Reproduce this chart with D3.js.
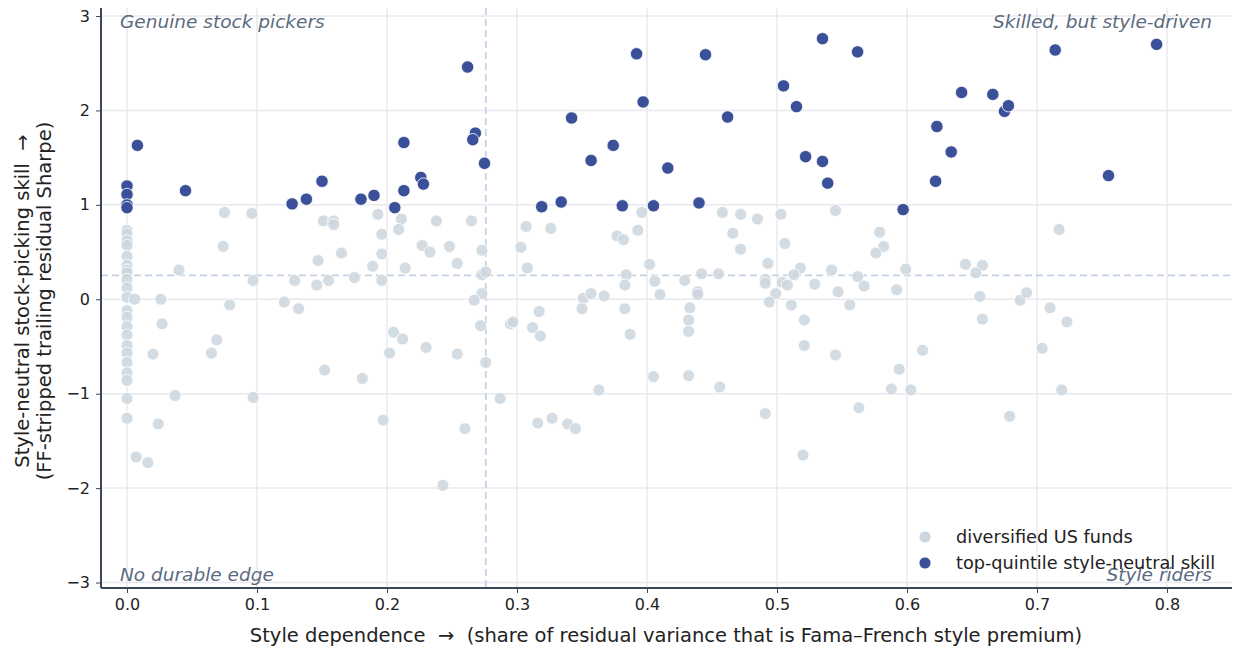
<!DOCTYPE html>
<html><head><meta charset="utf-8">
<script src="https://cdn.jsdelivr.net/npm/d3@7"></script>
<style>body{margin:0;background:#fff;font-family:"DejaVu Sans",sans-serif;} text{white-space:pre;}</style>
</head><body><svg id="c" width="1235" height="648"></svg>
<script>
// ---- data ----
const xTicks = [0.0,0.1,0.2,0.3,0.4,0.5,0.6,0.7,0.8];
const yTicks = [-3,-2,-1,0,1,2,3];
const styleThreshold = 0.276;
const skillThreshold = 0.254;
const seriesNames = ["diversified US funds","top-quintile style-neutral skill"];
// diversified US funds (style dependence, style-neutral skill)
const fundsX = [0,0,0,0,0,0,0,0,0,0,0,0,0,0,0,0,0,0,0,0,0,0,
 0.006,0.026,0.04,0.075,0.096,0.074,0.097,0.079,0.027,0.069,0.065,0.02,0.037,0.097,
 0.151,0.159,0.159,0.193,0.211,0.209,0.196,0.196,0.165,0.147,0.189,0.214,0.129,0.146,0.155,0.175,0.196,0.121,0.132,0.205,0.212,0.202,0.152,0.181,
 0.024,0.007,0.016,0.197,
 0.238,0.265,0.227,0.233,0.248,0.254,0.273,0.273,0.276,0.273,0.267,0.23,0.254,0.272,0.276,0.287,
 0.307,0.326,0.303,0.308,0.351,0.357,0.367,0.35,0.317,0.295,0.297,0.312,0.318,0.363,
 0.377,0.382,0.396,0.393,0.402,0.384,0.383,0.406,0.41,0.383,0.387,0.405,0.432,0.429,0.442,0.455,0.439,0.439,0.433,0.432,0.432,0.456,
 0.458,0.472,0.485,0.503,0.466,0.472,0.506,0.493,0.518,0.513,0.491,0.491,0.504,0.508,0.529,0.499,0.494,0.511,0.521,0.521,
 0.26,0.243,0.316,0.327,0.339,0.345,0.491,0.52,
 0.545,0.579,0.582,0.576,0.717,0.542,0.562,0.599,0.547,0.567,0.592,0.556,0.645,0.658,0.653,0.656,0.658,0.687,0.692,0.71,0.723,
 0.545,0.612,0.704,0.594,0.588,0.603,0.719,0.563,0.679];
const fundsY = [0.73,0.69,0.62,0.57,0.455,0.36,0.31,0.28,0.21,0.12,0.02,-0.12,-0.19,-0.29,-0.38,-0.49,-0.57,-0.67,-0.78,-0.86,-1.05,-1.26,
 0.0,0.0,0.31,0.92,0.91,0.56,0.2,-0.06,-0.26,-0.43,-0.57,-0.58,-1.02,-1.04,
 0.83,0.83,0.79,0.9,0.85,0.74,0.69,0.48,0.49,0.41,0.35,0.33,0.2,0.15,0.2,0.23,0.2,-0.03,-0.1,-0.35,-0.42,-0.57,-0.75,-0.84,
 -1.32,-1.67,-1.73,-1.28,
 0.83,0.83,0.57,0.5,0.56,0.38,0.52,0.26,0.29,0.06,-0.01,-0.51,-0.58,-0.28,-0.67,-1.05,
 0.77,0.75,0.55,0.33,0.01,0.06,0.035,-0.1,-0.13,-0.26,-0.24,-0.3,-0.39,-0.96,
 0.67,0.63,0.92,0.73,0.37,0.26,0.15,0.19,0.05,-0.1,-0.37,-0.82,-0.81,0.2,0.27,0.27,0.08,0.05,-0.09,-0.22,-0.34,-0.93,
 0.92,0.9,0.85,0.9,0.7,0.53,0.59,0.38,0.33,0.26,0.21,0.17,0.18,0.15,0.16,0.06,-0.03,-0.06,-0.22,-0.49,
 -1.37,-1.97,-1.31,-1.26,-1.32,-1.37,-1.21,-1.65,
 0.94,0.71,0.56,0.49,0.74,0.31,0.24,0.32,0.08,0.14,0.1,-0.06,0.37,0.36,0.28,0.03,-0.21,-0.01,0.07,-0.09,-0.24,
 -0.59,-0.54,-0.52,-0.74,-0.95,-0.96,-0.96,-1.15,-1.24];
// top-quintile style-neutral skill
const topX = [0,0,0,0,0.008,0.045,0.127,0.138,0.15,0.18,0.19,0.206,0.213,0.213,0.226,0.228,0.262,0.268,0.266,0.275,
 0.319,0.334,0.342,0.357,0.374,0.381,0.392,0.397,0.405,0.416,0.44,0.445,0.462,0.505,0.515,0.522,0.535,0.535,0.539,0.562,
 0.597,0.622,0.623,0.634,0.642,0.666,0.675,0.678,0.714,0.755,0.792];
const topY = [1.2,1.11,1.0,0.97,1.63,1.15,1.01,1.06,1.25,1.06,1.1,0.97,1.66,1.15,1.29,1.22,2.46,1.76,1.69,1.44,
 0.98,1.03,1.92,1.47,1.63,0.99,2.6,2.09,0.99,1.39,1.02,2.59,1.93,2.26,2.04,1.51,2.76,1.46,1.23,2.62,
 0.95,1.25,1.83,1.56,2.19,2.17,1.99,2.05,2.64,1.31,2.7];
const quadrantLabels = ["Genuine stock pickers","Skilled, but style-driven","No durable edge","Style riders"];

// ---- chart ----
const W=1235,H=648, m={l:101,r:3,t:8,b:60};
const svg=d3.select("#c");
const x=d3.scaleLinear().domain([-0.02,0.85]).range([m.l,W-m.r]);
const y=d3.scaleLinear().domain([-3.058,3.085]).range([H-m.b,m.t]);
const fmtY=d=>d<0?"\u2212"+Math.abs(d):String(d);

// grid
const g=svg.append("g");
g.selectAll(".gx").data(xTicks).join("line").attr("x1",d=>x(d)).attr("x2",d=>x(d)).attr("y1",m.t).attr("y2",H-m.b)
 .attr("stroke","#e8e8ef").attr("stroke-width",1.5);
g.selectAll(".gy").data(yTicks).join("line").attr("y1",d=>y(d)).attr("y2",d=>y(d)).attr("x1",m.l).attr("x2",W-m.r)
 .attr("stroke","#e8e8ef").attr("stroke-width",1.5);

// threshold lines
svg.append("line").attr("x1",x(styleThreshold)).attr("x2",x(styleThreshold)).attr("y1",m.t).attr("y2",H-m.b)
 .attr("stroke","#c3d1e2").attr("stroke-width",1.7).attr("stroke-dasharray","7,4");
svg.append("line").attr("y1",y(skillThreshold)).attr("y2",y(skillThreshold)).attr("x1",m.l).attr("x2",W-m.r)
 .attr("stroke","#c3d1e2").attr("stroke-width",1.7).attr("stroke-dasharray","7,4");

// points
const funds=fundsX.map((v,i)=>({x:v,y:fundsY[i]}));
const tops=topX.map((v,i)=>({x:v,y:topY[i]}));
svg.append("g").selectAll("circle").data(funds).join("circle")
 .attr("cx",d=>x(d.x)).attr("cy",d=>y(d.y)).attr("r",6)
 .attr("fill","#cdd6de").attr("fill-opacity",0.85).attr("stroke","#fff").attr("stroke-width",0.8);
svg.append("g").selectAll("circle").data(tops).join("circle")
 .attr("cx",d=>x(d.x)).attr("cy",d=>y(d.y)).attr("r",6.2)
 .attr("fill","#3a5199").attr("stroke","#fff").attr("stroke-width",0.8);

// axes
const ax=svg.append("g").attr("transform",`translate(0,${H-m.b})`)
 .call(d3.axisBottom(x).tickValues(xTicks).tickFormat(d3.format(".1f")).tickSize(5).tickPadding(6));
const ay=svg.append("g").attr("transform",`translate(${m.l},0)`)
 .call(d3.axisLeft(y).tickValues(yTicks).tickFormat(fmtY).tickSize(5).tickPadding(6));
[ax,ay].forEach(a=>{
 a.select(".domain").attr("stroke","#3b4659").attr("stroke-width",2);
 a.selectAll(".tick line").attr("stroke","#3b4659").attr("stroke-width",1);
 a.selectAll(".tick text").attr("fill","#222").style("font-size","16px").style("font-family","DejaVu Sans");
});
ay.select(".domain").attr("d",`M0,${m.t}V${H-m.b}`);
ax.select(".domain").attr("d",`M${m.l},0H${W-m.r}`);

// axis labels
svg.append("text").attr("x",666).attr("y",642).attr("text-anchor","middle").attr("fill","#222")
 .style("font-size","19.5px").text("Style dependence  \u2192  (share of residual variance that is Fama\u2013French style premium)");
const yl=svg.append("text").attr("transform",`translate(29,301) rotate(-90)`).attr("text-anchor","middle")
 .attr("fill","#222").style("font-size","19.5px");
yl.append("tspan").attr("x",0).attr("dy",0).text("Style-neutral stock-picking skill  \u2192");
yl.append("tspan").attr("x",0).attr("dy","1.15em").text("(FF-stripped trailing residual Sharpe)");

// quadrant labels
const ql=[{t:quadrantLabels[0],x:120,y:28,a:"start"},{t:quadrantLabels[1],x:1212,y:28,a:"end"},
 {t:quadrantLabels[2],x:120,y:581,a:"start"},{t:quadrantLabels[3],x:1212,y:581,a:"end"}];
svg.append("g").selectAll("text").data(ql).join("text").attr("x",d=>d.x).attr("y",d=>d.y).attr("text-anchor",d=>d.a)
 .attr("fill","#5a6b80").style("font-size","18.5px").style("font-style","italic").text(d=>d.t);

// legend
const lg=svg.append("g");
const lc=["#cdd6de","#3a5199"];
seriesNames.forEach((s,i)=>{
 lg.append("circle").attr("cx",925).attr("cy",537+i*26).attr("r",6).attr("fill",lc[i]).attr("stroke","#fff").attr("stroke-width",0.8);
 lg.append("text").attr("x",956).attr("y",543+i*26).attr("fill","#222").style("font-size","17.7px").text(s);
});
</script></body></html>
